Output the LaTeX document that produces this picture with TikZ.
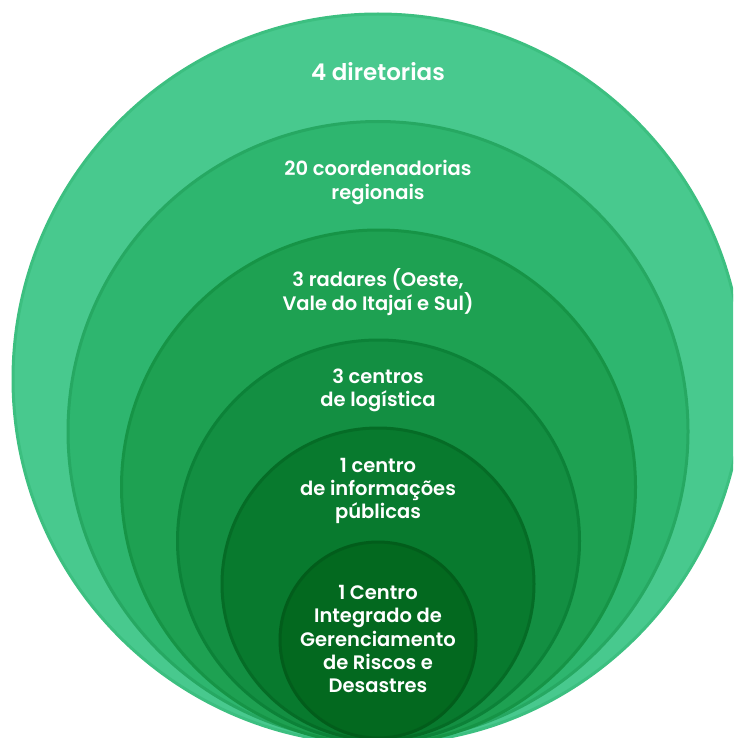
\documentclass[tikz,border=0pt]{standalone}
\usepackage{fontspec}
\setmainfont{Poppins}[UprightFont={* SemiBold}]
\definecolor{ringA}{HTML}{48C98E}
\definecolor{ringAline}{HTML}{3CBF80}
\definecolor{ringB}{HTML}{2EB66F}
\definecolor{ringBline}{HTML}{26A862}
\definecolor{ringC}{HTML}{1EA152}
\definecolor{ringCline}{HTML}{169446}
\definecolor{ringD}{HTML}{138F42}
\definecolor{ringDline}{HTML}{0C8238}
\definecolor{ringE}{HTML}{087A2E}
\definecolor{ringEline}{HTML}{056C26}
\definecolor{ringF}{HTML}{03691F}
\definecolor{ringFline}{HTML}{025D1B}
\tikzset{
  ring/.style={shape=circle, line width=3pt, inner sep=0pt},
  ringtext/.style={text=white, align=center, font=\fontsize{19.5}{23.3}\selectfont}
}

\begin{document}
\begin{tikzpicture}[x=1pt, y=-1pt]
\useasboundingbox (0,0) rectangle (733,738);
\clip (0,0) rectangle (733,738);
% nested circles, all touching at the bottom
\node[ring, draw=ringAline, fill=ringA, minimum size=730pt] (C1) at (378, 379) {};
\node[ring, draw=ringBline, fill=ringB, minimum size=620pt] (C2) at (378, 431.5) {};
\node[ring, draw=ringCline, fill=ringC, minimum size=514pt] (C3) at (378.5, 487) {};
\node[ring, draw=ringDline, fill=ringD, minimum size=402pt] (C4) at (378.5, 541) {};
\node[ring, draw=ringEline, fill=ringE, minimum size=312pt] (C5) at (378, 584) {};
\node[ring, draw=ringFline, fill=ringF, minimum size=196pt] (C6) at (378, 640) {};
% labels
\node[ringtext, font=\fontsize{23}{27}\selectfont] (T1) at (378, 72) {4 diretorias};
\node[ringtext] (T2) at (378, 182.5) {20 coordenadorias\\regionais};
\node[ringtext] (T3) at (378, 292) {3 radares (Oeste,\\Vale do Itajaí e Sul)};
\node[ringtext] (T4) at (378, 390.5) {3 centros\\de logística};
\node[ringtext] (T5) at (378, 491) {1 centro\\de informações\\públicas};
\node[ringtext] (T6) at (378, 639) {1 Centro\\Integrado de\\Gerenciamento\\de Riscos e\\Desastres};
\end{tikzpicture}
\end{document}
